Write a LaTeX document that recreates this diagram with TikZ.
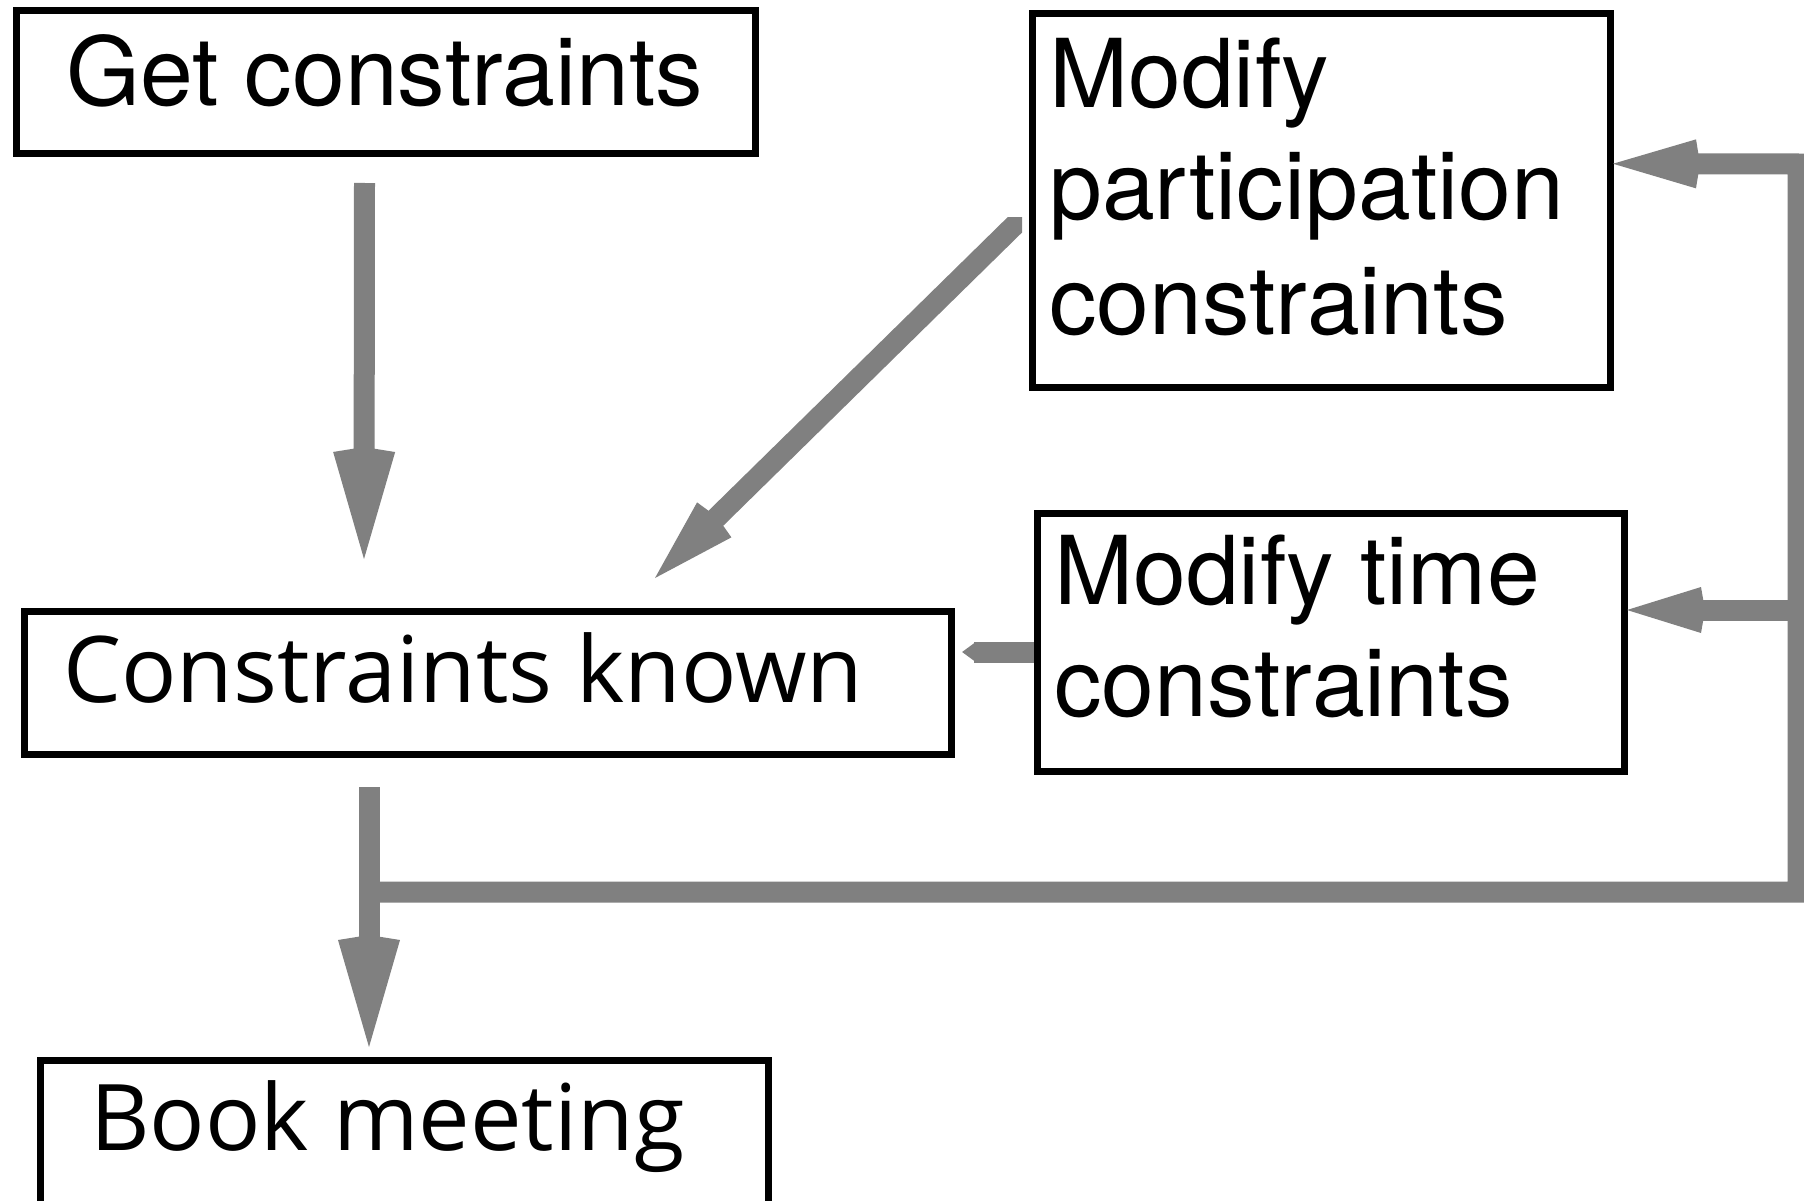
\documentclass[tikz,border=0pt]{standalone}
\usepackage{fontspec}
\usetikzlibrary{arrows.meta,calc}
\newfontfamily\helv{TeX Gyre Heros}
\newfontfamily\hum{Open Sans}
\definecolor{flow}{gray}{0.5}
\begin{document}
\begin{tikzpicture}[x=1pt,y=-1pt,
  box/.style={draw=black,line width=7pt,inner sep=0pt,outer sep=0pt,anchor=north west},
  lbl/.style={anchor=base west,inner sep=0pt,font=\helv\fontsize{95}{112}\selectfont},
  hlbl/.style={anchor=base west,inner sep=0pt,font=\hum\fontsize{92}{110}\selectfont},
  flowline/.style={draw=flow,line width=21pt},
  bighead/.style={flowline,-{Kite[length=112pt,width=62pt,inset=5pt]}},
  midhead/.style={flowline,-{Kite[length=87pt,width=49pt,inset=4pt]}},
  smallhead/.style={flowline,-{Kite[length=78pt,width=46pt,inset=4pt]}},
  tinyhead/.style={flowline,-{Triangle[length=13pt,width=18pt]}}]
\useasboundingbox[fill=white] (0,0) rectangle (1804,1201);
\clip (0,0) rectangle (1804,1201);

% boxes
\node[box,minimum width=739pt,minimum height=143pt] (gc) at (16,11) {};
\node[box,minimum width=578pt,minimum height=373pt] (mp) at (1032,14) {};
\node[box,minimum width=927pt,minimum height=143pt] (ck) at (24,611) {};
\node[box,minimum width=587pt,minimum height=258pt] (mt) at (1037,513) {};
\node[box,minimum width=728pt,minimum height=160pt] (bm) at (40,1060) {};

% labels
\node[lbl] (gct) at (66,106) {Get constraints};
\node[lbl] (mpa) at (1049,108) {Modify};
\node[lbl] (mpb) at (1049,219) {participation};
\node[lbl] (mpc) at (1049,334) {constraints};
\node[lbl] (mta) at (1054,604) {Modify time};
\node[lbl] (mtb) at (1054,716) {constraints};
\node[hlbl] (ckt) at (63,702) {Constraints known};
\node[hlbl] (bmt) at (90,1150) {Book meeting};

% connectors
\draw[bighead] ($(gc.south)+(-21,29)$) -- ($(ck.north)+(-123.5,-52)$);
\begin{scope}
  % the diagonal's tail is cut square against the box side
  \clip (0,218) rectangle (1022,1201);
  \draw[midhead] ($(mp.west)+(0,7.5)$) -- ($(ck.north)+(167.5,-33)$);
\end{scope}
\draw[tinyhead] ($(mt.west)+(-3,10)$) -- ($(ck.east)+(11,-30.5)$);
\draw[bighead] ($(ck.south)+(-118.5,33)$) -- ($(bm.north)+(-35,-13)$);
\coordinate (j) at ($(ck.south)+(-118.5,138)$);
\coordinate (rt) at (1798,892);
\draw[midhead] (j) -- (rt) -- (rt |- 0,164) -- ($(mp.east)+(3,-36.75)$);
\draw[smallhead] (rt |- 0,610) -- ($(mt.east)+(3,-32)$);
\end{tikzpicture}
\end{document}
